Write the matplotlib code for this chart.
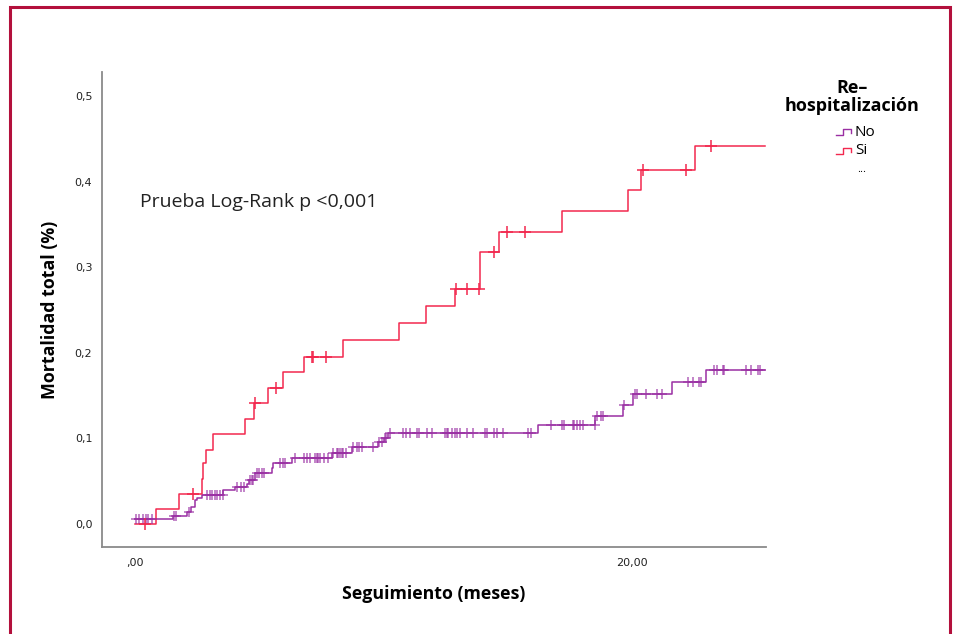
import numpy as np
import matplotlib

matplotlib.use("Agg")
import matplotlib.pyplot as plt
from matplotlib.lines import Line2D
from matplotlib.patches import Rectangle


# Kaplan-Meier style cumulative mortality
NO_TIMES = [0.0, 1.53, 2.10, 2.24, 2.41, 2.51, 2.68, 3.55, 4.02, 4.50, 4.60, 4.83, 5.50, 5.57,
            6.31, 7.92, 8.72, 9.79, 10.02, 10.19, 16.23, 18.51, 19.65, 20.03, 21.60, 22.98, 25.42]
NO_VALUES = [0.006, 0.009, 0.014, 0.020, 0.028, 0.030, 0.034, 0.040, 0.043, 0.047, 0.051, 0.060,
             0.065, 0.071, 0.077, 0.083, 0.090, 0.096, 0.100, 0.106, 0.116, 0.126, 0.139, 0.152,
             0.166, 0.180, 0.180]
NO_CENSORED = [0.04, 0.17, 0.31, 0.44, 0.54, 0.68, 1.57, 1.65, 2.19,
               2.91, 3.02, 3.11, 3.22, 3.31, 3.42, 3.53, 4.12, 4.25, 4.39, 4.62, 4.70, 4.76,
               4.90, 5.00, 5.10, 5.19, 5.84, 5.94, 6.04,
               6.44, 6.80, 6.93, 7.04, 7.24, 7.31, 7.38, 7.44, 7.61, 7.78,
               7.98, 8.12, 8.18, 8.25, 8.32, 8.38, 8.49, 8.78, 8.92, 9.03, 9.12, 9.59,
               9.83, 9.93, 10.04, 10.10,
               10.26, 10.77, 10.91, 11.07, 11.34, 11.44, 11.74, 11.94, 12.48, 12.55, 12.61,
               12.74, 12.88, 12.94, 13.08, 13.35, 13.59, 14.08, 14.15, 14.45, 14.55, 14.82,
               15.83, 15.92,
               16.73, 17.17, 17.26, 17.61, 17.67, 17.77, 17.91, 18.04, 18.49,
               18.60, 18.74, 18.84, 19.68,
               20.12, 20.21, 20.56, 21.02, 21.20, 22.27, 22.47, 22.71, 22.76,
               23.30, 23.41, 23.65, 23.70, 24.59, 24.78, 25.08, 25.15]

SI_TIMES = [0.0, 0.85, 1.78, 2.68, 2.75, 2.86, 3.12, 4.44, 4.80, 5.35, 5.97, 6.80, 8.38, 10.64,
            11.71, 12.88, 13.88, 14.66, 17.17, 19.85, 20.36, 22.54, 25.35]
SI_VALUES = [0.0, 0.018, 0.035, 0.052, 0.071, 0.087, 0.105, 0.123, 0.141, 0.159, 0.177, 0.195,
             0.215, 0.235, 0.255, 0.274, 0.318, 0.341, 0.366, 0.390, 0.414, 0.442, 0.442]
SI_CENSORED = [0.40, 2.35, 4.82, 5.66, 7.11, 7.18, 7.69, 12.92, 13.36, 13.84, 14.46,
               14.96, 15.69, 20.45, 22.17, 23.18]

Y_TICKS = [0.0, 0.1, 0.2, 0.3, 0.4, 0.5]
Y_TICK_LABELS = ["0,0", "0,1", "0,2", "0,3", "0,4", "0,5"]
X_TICKS = [0, 20]
X_TICK_LABELS = [",00", "20,00"]

NO_COLOR = "#9a2fa3"
SI_COLOR = "#f2284e"
FRAME_COLOR = "#b3103c"

W, H = 954, 634


def px(x, y):
    # pixel position (from top-left) -> figure fraction
    return x / W, 1 - y / H


def level_at(times, values, t):
    idx = np.searchsorted(times, t, side="right") - 1
    return np.asarray(values)[idx]


def main() -> None:
    plt.rcParams["font.family"] = ["Open Sans", "DejaVu Sans"]
    fig = plt.figure(figsize=(W / 100, H / 100), dpi=100)
    ax = fig.add_axes([102 / W, 1 - 547 / H, 664 / W, 475 / H])

    ax.step(NO_TIMES, NO_VALUES, where="post", color=NO_COLOR, linewidth=1.1)
    ax.step(SI_TIMES, SI_VALUES, where="post", color=SI_COLOR, linewidth=1.1)

    no_c = np.array(NO_CENSORED)
    si_c = np.array(SI_CENSORED)
    ax.plot(no_c, level_at(NO_TIMES, NO_VALUES, no_c), linestyle="none", marker="+",
            markersize=7.5, markeredgewidth=1.1, color=NO_COLOR, alpha=0.75)
    ax.plot(si_c, level_at(SI_TIMES, SI_VALUES, si_c), linestyle="none", marker="+",
            markersize=8, markeredgewidth=1.1, color=SI_COLOR)

    ax.set_xlim(-1.33, 25.39)
    ax.set_ylim(-0.0269, 0.528)
    ax.set_xticks(X_TICKS)
    ax.set_xticklabels(X_TICK_LABELS, family="DejaVu Sans", fontsize=8, color="#222222")
    ax.set_yticks(Y_TICKS)
    ax.set_yticklabels(Y_TICK_LABELS, family="DejaVu Sans", fontsize=8, color="#222222")
    ax.tick_params(axis="x", length=0, pad=8)
    ax.tick_params(axis="y", length=0, pad=7)
    for side in ("top", "right"):
        ax.spines[side].set_visible(False)
    for side in ("left", "bottom"):
        ax.spines[side].set_color("#8a8a8a")
        ax.spines[side].set_linewidth(1.3)

    ax.set_xlabel("Seguimiento (meses)", fontsize=12.8, fontweight="bold", labelpad=12)
    ax.set_ylabel("Mortalidad total (%)", fontsize=12.8, fontweight="bold", labelpad=11)

    ax.text(0.2, 0.376, "Prueba Log-Rank p <0,001", fontsize=14, color="#222222",
            va="center", ha="left")

    # legend drawn by hand to get the SPSS look
    fig.text(*px(852, 88), "Re\u2013", ha="center", va="center", fontsize=13, fontweight="bold")
    fig.text(*px(852, 106), "hospitalización", ha="center", va="center", fontsize=13,
             fontweight="bold")
    for label, color, y in (("No", NO_COLOR, 132), ("Si", SI_COLOR, 151)):
        xs = [836, 843, 843, 851, 851]
        ys = [y + 3, y + 3, y - 3, y - 3, y + 1]
        pts = [px(a, b) for a, b in zip(xs, ys)]
        fig.add_artist(Line2D([p[0] for p in pts], [p[1] for p in pts], color=color,
                              linewidth=1.0, transform=fig.transFigure))
        fig.text(*px(855, y), label, ha="left", va="center", fontsize=11)
    fig.text(*px(862, 170), "...", ha="center", va="center", fontsize=8)

    frame = Rectangle(px(10, 700), 940 / W, 693 / H, transform=fig.transFigure,
                      fill=False, edgecolor=FRAME_COLOR, linewidth=2.2, clip_on=False)
    fig.add_artist(frame)

    fig.savefig("out.png", dpi=100)
    plt.close(fig)


if __name__ == "__main__":
    main()
